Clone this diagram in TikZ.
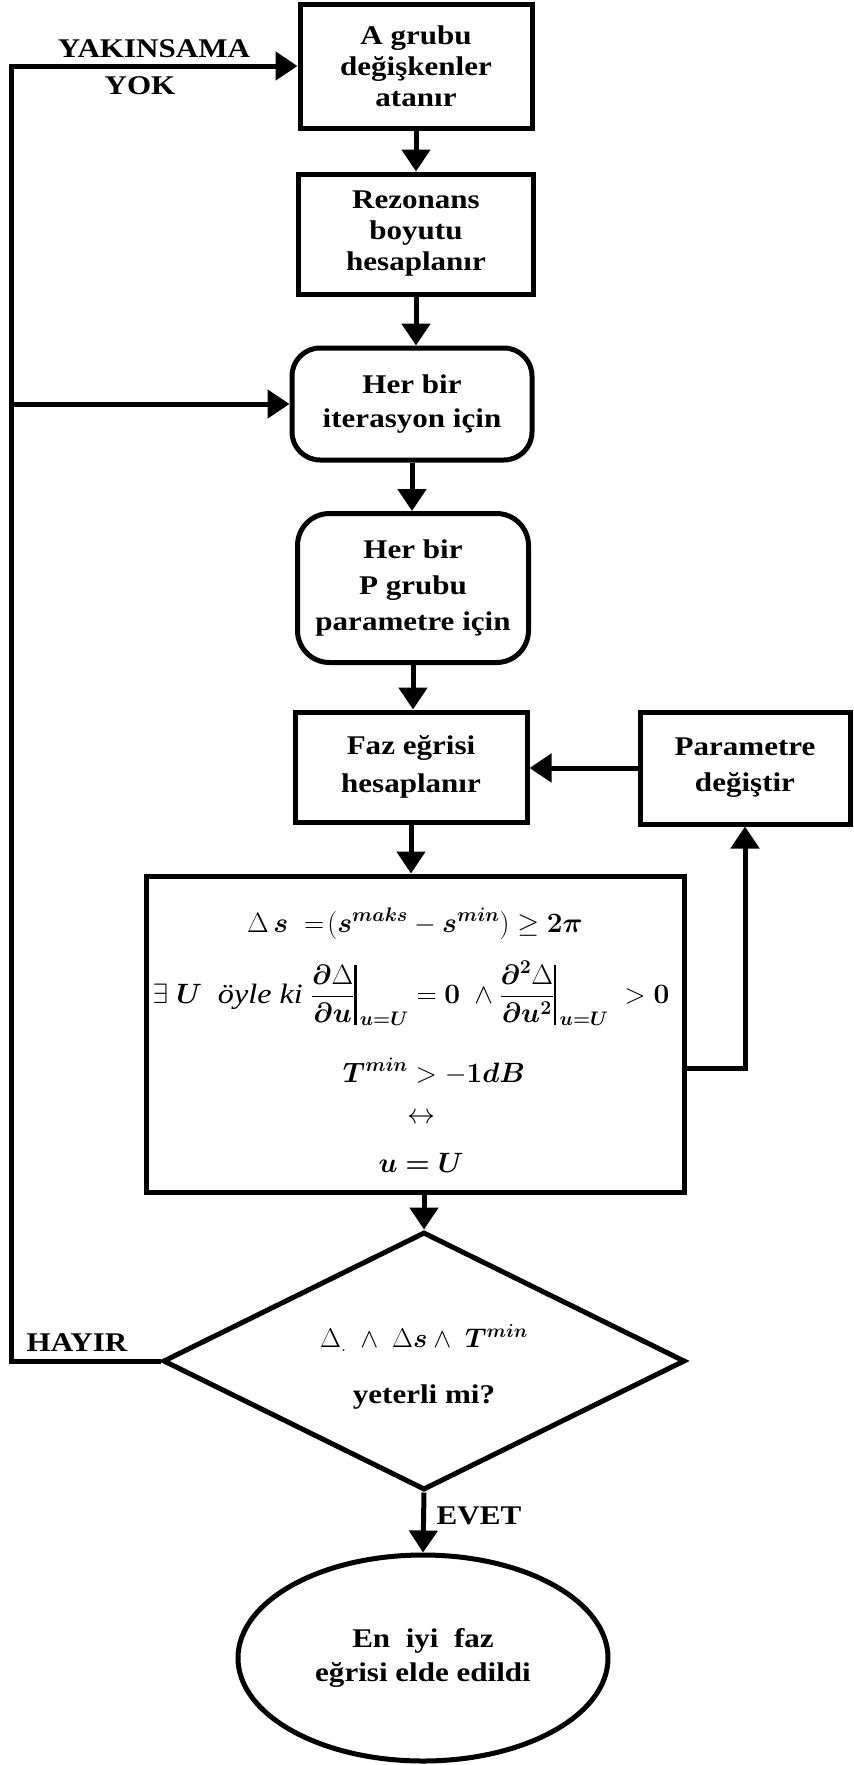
\RequirePackage{fix-cm}
\documentclass[tikz,border=0pt]{standalone}
\usepackage{amsmath,bm}
\usepackage{fontspec}
\setmainfont{Liberation Serif}[FakeStretch=1.15]
\usetikzlibrary{arrows.meta,shapes.geometric,calc}
\newcommand{\evbar}{\mathord{\rule[-22pt]{2.2pt}{60pt}}}
\begin{document}
\begin{tikzpicture}[x=1pt,y=-1pt]
\tikzset{
  box/.style={draw, line width=5pt, inner sep=0pt, align=center,
    font=\bfseries\fontsize{27}{31}\selectfont},
  rbox/.style={box, rounded corners=28pt},
  conn/.style={line width=5pt, -{Triangle[width=28pt,length=22pt]}},
  lbl/.style={font=\bfseries\fontsize{27}{30}\selectfont, inner sep=0pt, anchor=base},
  mtxt/.style={inner sep=0pt, anchor=base, font=\bfseries\fontsize{28}{30}\selectfont}
}
\useasboundingbox (0,0) rectangle (854,1765);

\node[box, minimum width=232pt, minimum height=124pt] (A) at (416,66)
  {A grubu\\değişkenler\\atanır};
\node[box, minimum width=235pt, minimum height=120pt] (R) at (416,234)
  {Rezonans\\boyutu\\hesaplanır};
\node[rbox, minimum width=240pt, minimum height=112pt,
  font=\bfseries\fontsize{27}{34}\selectfont] (H) at (412,404)
  {Her bir\\iterasyon için};
\node[rbox, rounded corners=32pt, minimum width=231pt, minimum height=149pt,
  font=\bfseries\fontsize{27}{36}\selectfont] (P) at (413,588)
  {Her bir\\P grubu\\parametre için};
\node[box, minimum width=232pt, minimum height=110pt,
  font=\bfseries\fontsize{27}{38}\selectfont] (F) at (411,767)
  {Faz eğrisi\\hesaplanır};
\node[box, minimum width=210pt, minimum height=112pt,
  font=\bfseries\fontsize{27}{36}\selectfont] (Pm) at (745,768)
  {Parametre\\değiştir};
\node[box, minimum width=538pt, minimum height=316pt] (big) at (415,1034) {};
\node[mtxt] (r1) at (415,932)
  {$\Delta\,\bm{s}\ =\!(\bm{s}^{\bm{maks}}-\bm{s}^{\bm{min}})\geq\bm{2\pi}$};
\node[mtxt] (r2) at (411,1003)
  {$\exists\ \bm{U}\ \ \text{\mdseries\itshape öyle\ ki}\ \dfrac{\bm{\partial}\Delta}{\bm{\partial u}}\evbar_{\,\bm{u=U}}=\bm{0}\ \wedge\dfrac{\bm{\partial}^{\bm{2}}\Delta}{\bm{\partial u}^{\bm{2}}}\evbar_{\,\bm{u=U}}\ >\bm{0}$};
\node[mtxt] (r3) at (434,1082) {$\bm{T}^{\bm{min}}>-\bm{1}\bm{dB}$};
\node[mtxt] (r4) at (421,1123) {$\leftrightarrow$};
\node[mtxt] (r5) at (421,1172) {$\bm{u=U}$};
\node[diamond, draw, line width=5pt, inner sep=0pt, aspect=2,
  minimum width=522pt, minimum height=258pt, align=center,
  font=\bfseries\fontsize{27}{0}\selectfont] (dia) at (424,1361)
  {\mbox{}\\[28pt]\smash{$\Delta_{.}\ \wedge\ \Delta\bm{s}\wedge\ \bm{T}^{\bm{min}}$}\\[56pt]\smash{yeterli mi?}};
\node[ellipse, draw, line width=5pt, inner sep=0pt, minimum width=370pt,
  minimum height=206pt, align=center,
  font=\bfseries\fontsize{27}{34}\selectfont] (ell) at (423,1658)
  {En \ iyi \ faz\\eğrisi elde edildi};

\node[lbl] (yak) at (154,57) {YAKINSAMA};
\node[lbl] (yok) at (140,94) {YOK};
\node[lbl] (hay) at (77,1351) {HAYIR};
\node[lbl] (evet) at (479,1524) {EVET};

\coordinate (lx) at (11,0);
\coordinate (pj) at (751,1068);

\draw[conn] (A.south) -- (A.south |- R.north);
\draw[conn] (R.south) -- (R.south |- H.north);
\draw[conn] (H.south) -- (H.south |- P.north);
\draw[conn] (P.south) -- (P.south |- F.north);
\draw[conn] (F.south) -- (F.south |- big.north);
\draw[conn] (Pm.west) -- (Pm.west -| F.east);
\draw[conn] (big.east |- pj) -| (Pm.south);
\draw[conn] (dia.north |- big.south) -- (dia.north);
\draw[conn] (dia.south) -- (ell.north);
\draw[conn] (dia.west) -- (dia.west -| lx) |- (A.west);
\draw[conn] (lx |- H.west) -- (H.west);
\end{tikzpicture}
\end{document}
